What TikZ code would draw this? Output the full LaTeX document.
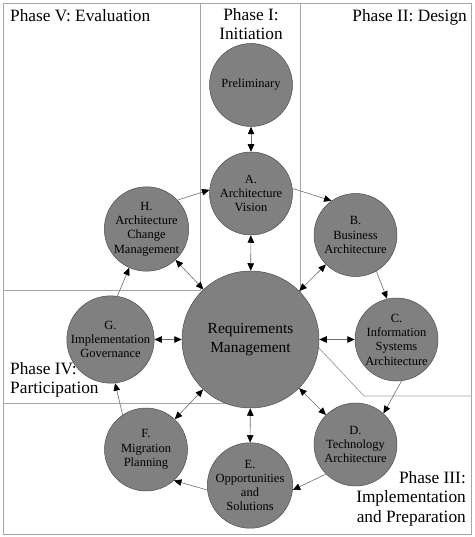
\documentclass[tikz,border=0pt]{standalone}
\usepackage{fontspec}
\setmainfont{Liberation Serif}
\usetikzlibrary{arrows.meta}
\definecolor{circfill}{RGB}{128,128,128}
\definecolor{framegray}{RGB}{165,165,165}
\definecolor{linkgray}{RGB}{110,110,110}
\begin{document}
\begin{tikzpicture}[x=1pt,y=-1pt,
  phase/.style={circle,draw=black!70,line width=0.5pt,fill=circfill,inner sep=0pt,minimum size=83pt,align=center,font=\fontsize{12.5}{14.3}\selectfont},
  big/.style={phase,minimum size=137pt,font=\fontsize{15.4}{18.3}\selectfont},
  frame/.style={draw=framegray,line width=0.8pt},
  link/.style={draw=linkgray,line width=0.6pt,-{Triangle[length=7.5pt,width=6.5pt,color=black]}},
  dlink/.style={draw=linkgray,line width=0.6pt,{Triangle[length=7.5pt,width=6.5pt,color=black]}-{Triangle[length=7.5pt,width=6.5pt,color=black]}},
  lbl/.style={inner sep=0pt,font=\fontsize{17.3}{19.5}\selectfont}]
\useasboundingbox (0,0) rectangle (474,537);
% frames
\draw[frame] (3,3) rectangle (471,534);
\draw[frame] (200,3) -- (200,290) -- (3,290);
\draw[frame] (300,3) -- (300,292);
\draw[frame] (318,347) -- (364,396) -- (471,396);
\draw[frame] (3,403) -- (226,403);
% circles
\node[phase] (P) at (251,85) {Preliminary};
\node[phase] (A) at (251,193.5) {A.\\Architecture\\Vision};
\node[phase] (B) at (355.5,235) {B.\\Business\\Architecture};
\node[phase] (C) at (396.5,339.5) {C.\\Information\\Systems\\Architecture};
\node[phase] (D) at (355.5,444.5) {D.\\Technology\\Architecture};
\node[phase] (E) at (250,485.5) {E.\\Opportunities\\and\\Solutions};
\node[phase] (F) at (146,449.5) {F.\\Migration\\Planning};
\node[phase] (G) at (110.5,339.5) {G.\\Implementation\\Governance};
\node[phase] (H) at (146.5,229) {H.\\Architecture\\Change\\Management};
\node[big] (R) at (250.5,339.5) {Requirements\\Management};
% double arrows to requirements
\draw[dlink] (P) -- (A);
\draw[dlink] (A) -- (R);
\draw[dlink] (B) -- (R);
\draw[dlink] (C) -- (R);
\draw[dlink] (D) -- (R);
\draw[dlink] (E) -- (R);
\draw[dlink] (F) -- (R);
\draw[dlink] (G) -- (R);
\draw[dlink] (H) -- (R);
% cycle arrows
\draw[link] (A.7) -- (B.125);
\draw[link] (B.-60) -- (C.103);
\draw[link] (C.-83) -- (D.48);
\draw[link] (D.225) -- (E.-6);
\draw[link] (E.186) -- (F.-48);
\draw[link] (F.124) -- (G.-84);
\draw[link] (G.81) -- (H.246);
\draw[link] (H.43) -- (A.175);
% labels
\node[lbl,anchor=base west] (l5) at (10,22) {Phase V: Evaluation};
\node[lbl,anchor=north,align=center] (l1) at (251,8) {Phase I:\\Initiation};
\node[lbl,anchor=base east] (l2) at (467,22) {Phase II: Design};
\node[lbl,anchor=north west,align=left] (l4) at (10,362) {Phase IV:\\Participation};
\node[lbl,anchor=north east,align=right] (l3) at (466,471) {Phase III:\\Implementation\\and Preparation};
\end{tikzpicture}
\end{document}
